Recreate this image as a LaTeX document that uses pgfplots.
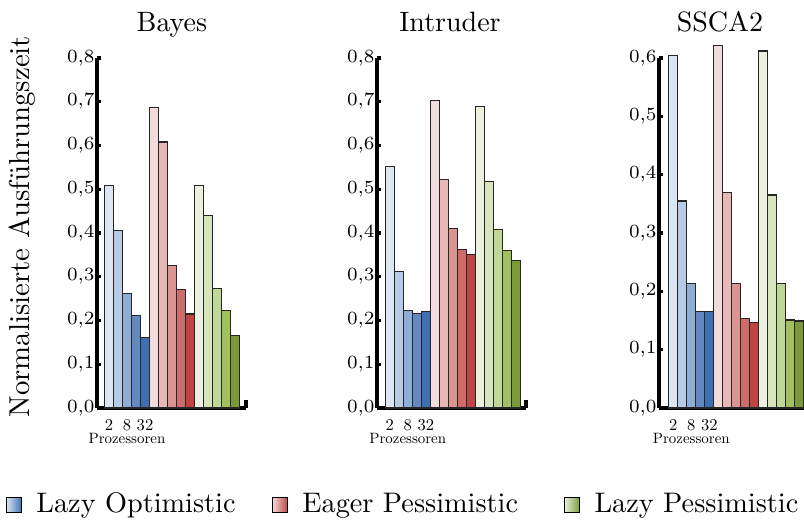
\documentclass[border=0pt]{standalone}
\usepackage{pgfplots}
\usepackage{graphicx}
\pgfplotsset{compat=1.18}
\definecolor{b1}{HTML}{DCE6F2}\definecolor{b2}{HTML}{B7CBE4}\definecolor{b3}{HTML}{8EAED6}\definecolor{b4}{HTML}{6489C0}\definecolor{b5}{HTML}{3F6FB3}
\definecolor{r1}{HTML}{F2DCDB}\definecolor{r2}{HTML}{E8B7B6}\definecolor{r3}{HTML}{DA9593}\definecolor{r4}{HTML}{CD6C6A}\definecolor{r5}{HTML}{BE4543}
\definecolor{g1}{HTML}{EBF1DE}\definecolor{g2}{HTML}{D8E4BC}\definecolor{g3}{HTML}{C1D699}\definecolor{g4}{HTML}{A2C060}\definecolor{g5}{HTML}{7A9A3A}
\pgfplotsset{
  panel/.style={
    scale only axis, width=55.875pt, height=131.25pt,
    anchor=south west,
    ybar, bar width=1, ymin=0,
    axis x line*=bottom, axis y line*=left,
    axis line style={line width=1.4pt, black},
    tick align=inside,
    major tick length=1.6pt,
    y tick style={draw=black, line width=1.2pt},
    x tick style={draw=none},
    xtick={1,3,5}, xticklabels={\scalebox{0.62}{2},\scalebox{0.62}{8},\scalebox{0.62}{32}},
    xticklabel style={inner sep=0pt, yshift=-4.2pt},
    yticklabel style={font=\fontsize{7.2}{8}\selectfont, inner sep=0pt, xshift=-0.7pt, /pgf/number format/.cd, use comma, fixed, fixed zerofill, precision=1},
    ytick distance=0.1,
    xlabel={\scalebox{0.56}{Prozessoren}},
    xlabel style={at={(axis cs:3,0)}, anchor=center, yshift=-11.6pt, inner sep=0pt},
    title style={font=\fontsize{10.5}{12}\selectfont, anchor=base, yshift=3.75pt},
    clip=false,
    every axis plot/.append style={draw=black!85, line width=0.45pt, bar shift=0pt},
  },
  legimg/.style n args={2}{legend image code/.code={\shade[left color=#1, right color=#2, draw=black, line width=0.45pt] (0pt,-2.9pt) rectangle (5.8pt,2.9pt);}},
}
\begin{document}
\begin{tikzpicture}
\begin{axis}[panel, at={(36.375pt,41.625pt)}, xmin=-0.333, xmax=16.222, ymax=0.8,
  title={Bayes}, title style={at={(axis description cs:0.503,1)}},
  ylabel={Normalisierte Ausführungszeit},
  ylabel style={font=\fontsize{10.8}{12}\selectfont, at={(axis description cs:-0.503,0.518)}, anchor=center},
  legend columns=3,
  legend style={draw=none, fill=none, at={(axis description cs:-0.617,-0.277)}, anchor=west,
    font=\fontsize{10.6}{12}\selectfont, inner sep=0pt,
    /tikz/every odd column/.append style={column sep=3.3pt},
    /tikz/every even column/.append style={column sep=0pt}},
  legend cell align=left]
\addlegendimage{legimg={b1}{b5}}\addlegendentry{\makebox[86.2pt][l]{Lazy Optimistic}}
\addlegendimage{legimg={r1}{r5}}\addlegendentry{\makebox[96pt][l]{Eager Pessimistic}}
\addlegendimage{legimg={g1}{g5}}\addlegendentry{Lazy Pessimistic}
\addplot[fill=b1, forget plot] coordinates {(1,0.508)};
\addplot[fill=b2, forget plot] coordinates {(2,0.406)};
\addplot[fill=b3, forget plot] coordinates {(3,0.262)};
\addplot[fill=b4, forget plot] coordinates {(4,0.212)};
\addplot[fill=b5, forget plot] coordinates {(5,0.162)};
\addplot[fill=r1, forget plot] coordinates {(6,0.687)};
\addplot[fill=r2, forget plot] coordinates {(7,0.608)};
\addplot[fill=r3, forget plot] coordinates {(8,0.325)};
\addplot[fill=r4, forget plot] coordinates {(9,0.270)};
\addplot[fill=r5, forget plot] coordinates {(10,0.215)};
\addplot[fill=g1, forget plot] coordinates {(11,0.508)};
\addplot[fill=g2, forget plot] coordinates {(12,0.440)};
\addplot[fill=g3, forget plot] coordinates {(13,0.274)};
\addplot[fill=g4, forget plot] coordinates {(14,0.223)};
\addplot[fill=g5, forget plot] coordinates {(15,0.166)};
\draw[line width=1.3pt] (rel axis cs:1,0) -- ++(0pt,3pt);
\end{axis}
\begin{axis}[panel, at={(141.375pt,41.625pt)}, xmin=-0.42, xmax=16.136, ymax=0.8,
  title={Intruder}, title style={at={(axis description cs:0.49,1)}}]
\addplot[fill=b1] coordinates {(1,0.552)};
\addplot[fill=b2] coordinates {(2,0.312)};
\addplot[fill=b3] coordinates {(3,0.222)};
\addplot[fill=b4] coordinates {(4,0.216)};
\addplot[fill=b5] coordinates {(5,0.221)};
\addplot[fill=r1] coordinates {(6,0.703)};
\addplot[fill=r2] coordinates {(7,0.523)};
\addplot[fill=r3] coordinates {(8,0.411)};
\addplot[fill=r4] coordinates {(9,0.363)};
\addplot[fill=r5] coordinates {(10,0.350)};
\addplot[fill=g1] coordinates {(11,0.690)};
\addplot[fill=g2] coordinates {(12,0.517)};
\addplot[fill=g3] coordinates {(13,0.408)};
\addplot[fill=g4] coordinates {(14,0.360)};
\addplot[fill=g5] coordinates {(15,0.338)};
\draw[line width=1.3pt] (rel axis cs:1,0) -- ++(0pt,3pt);
\end{axis}
\begin{axis}[panel, at={(247.125pt,41.625pt)}, xmin=-0.59, xmax=15.966, ymax=0.6,
  title={SSCA2}, title style={at={(axis description cs:0.409,1)}}]
\addplot[fill=b1] coordinates {(1,0.604)};
\addplot[fill=b2] coordinates {(2,0.355)};
\addplot[fill=b3] coordinates {(3,0.213)};
\addplot[fill=b4] coordinates {(4,0.166)};
\addplot[fill=b5] coordinates {(5,0.166)};
\addplot[fill=r1] coordinates {(6,0.622)};
\addplot[fill=r2] coordinates {(7,0.370)};
\addplot[fill=r3] coordinates {(8,0.214)};
\addplot[fill=r4] coordinates {(9,0.153)};
\addplot[fill=r5] coordinates {(10,0.147)};
\addplot[fill=g1] coordinates {(11,0.612)};
\addplot[fill=g2] coordinates {(12,0.365)};
\addplot[fill=g3] coordinates {(13,0.214)};
\addplot[fill=g4] coordinates {(14,0.151)};
\addplot[fill=g5] coordinates {(15,0.149)};
\end{axis}
\pgfresetboundingbox
\useasboundingbox (0pt,0pt) rectangle (301.5pt,194.625pt);
\end{tikzpicture}
\end{document}
